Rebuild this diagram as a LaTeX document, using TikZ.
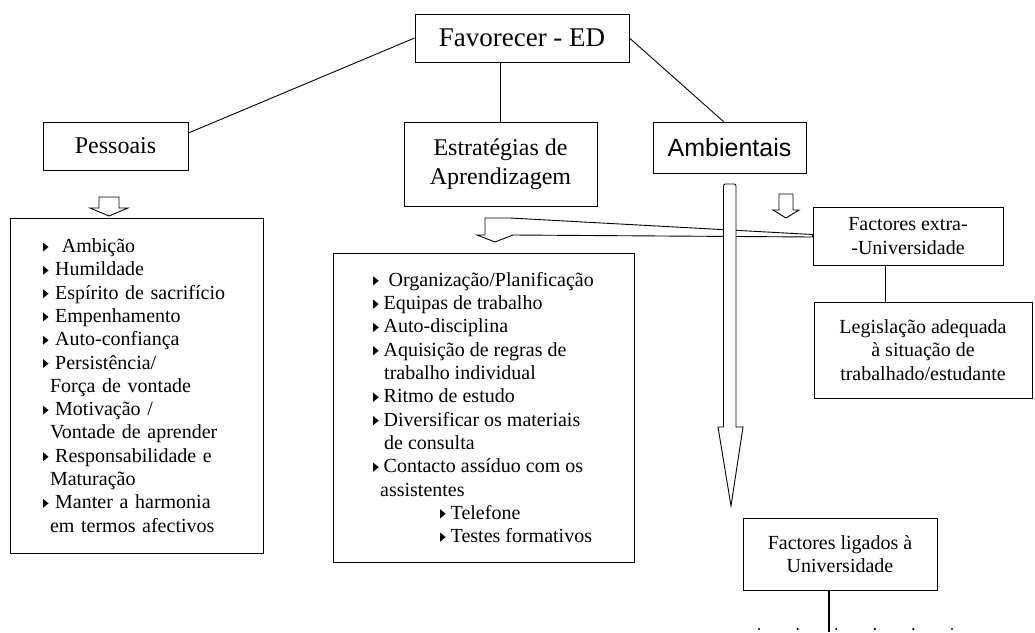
\documentclass[tikz,border=0pt]{standalone}
\usepackage{fontspec}
\setmainfont{Liberation Serif}
\newfontfamily\arialfont{Liberation Sans}
\newcommand{\tri}{\tikz[baseline=0pt, x=1pt, y=1pt]\fill (0,1) -- (0,10) -- (5.5,5.5) -- cycle;}
\tikzset{
  box/.style={draw, line width=0.9pt, inner sep=0pt, align=center},
  listbox/.style={draw, line width=0.9pt, inner ysep=0pt, align=left, font=\fontsize{20}{23.3}\selectfont},
  holarrow/.style={draw, fill=white, line width=0.9pt, line join=miter}
}

\begin{document}
\begin{tikzpicture}[x=1pt,y=-1pt]
    \useasboundingbox (0,0) rectangle (1035,632);

    \node[box, minimum width=214, minimum height=48, font=\fontsize{27}{31}\selectfont] (fav) at (522,38) {Favorecer - ED};
    \node[box, minimum width=145, minimum height=48, font=\fontsize{24}{28}\selectfont] (pess) at (115.5,146) {Pessoais};
    \node[box, minimum width=193, minimum height=84, font=\fontsize{24}{28.5}\selectfont] (estr) at (500.5,164) {Estratégias de\\Aprendizagem};
    \node[box, minimum width=153, minimum height=51, font=\arialfont\fontsize{25}{29}\selectfont] (amb) at (729.5,147.5) {Ambientais};

    \draw[line width=0.9pt] ([yshift=13pt]pess.east) -- (fav.west);
    \draw[line width=0.9pt] (estr.north) -- (estr.north |- fav.south);
    \draw[line width=0.9pt] (fav.east) -- ([xshift=-6pt]amb.north);

    \node[listbox, minimum height=335, text width=187, inner xsep=33] (pesslist) at (136.5,385.5) {%
        \tri\ \ Ambição\\
        \tri\ Humildade\\
        \tri\ Espírito de sacrifício\\
        \tri\ Empenhamento\\
        \tri\ Auto-confiança\\
        \tri\ Persistência/\\
        \hspace*{7pt}Força de vontade\\
        \tri\ Motivação /\\
        \hspace*{7pt}Vontade de aprender\\
        \tri\ Responsabilidade e\\
        \hspace*{7pt}Maturação\\
        \tri\ Manter a harmonia\\
        \hspace*{7pt}em termos afectivos};

    \node[listbox, minimum height=309, minimum width=301, inner xsep=40] (estrlist) at (483.5,407.5) {%
        \tri\ \ Organização/Planificação\\
        \tri\ Equipas de trabalho\\
        \tri\ Auto-disciplina\\
        \tri\ Aquisição de regras de\\
        \hspace*{11pt}trabalho individual\\
        \tri\ Ritmo de estudo\\
        \tri\ Diversificar os materiais\\
        \hspace*{11pt}de consulta\\
        \tri\ Contacto assíduo com os\\
        \hspace*{7pt}assistentes\\
        \hspace*{67pt}\tri\ Telefone\\
        \hspace*{67pt}\tri\ Testes formativos};

    \node[box, minimum width=190, minimum height=58, font=\fontsize{20}{23.3}\selectfont] (fext) at (908,236) {Factores extra-\\-Universidade};
    \node[box, minimum width=218, minimum height=96, font=\fontsize{20}{23.3}\selectfont] (leg) at (923,350) {Legislação adequada\\à situação de\\trabalhado/estudante};
    \node[box, minimum width=194, minimum height=72, font=\fontsize{20}{23.3}\selectfont] (flig) at (840,554) {Factores ligados à\\Universidade};

    \draw[line width=0.9pt] ([xshift=-23pt]fext.south) -- ([xshift=-23pt]fext.south |- leg.north);
    \coordinate (fend) at (829,632);
    \draw[line width=1.2pt] (flig.south -| fend) -- (fend);
    \foreach \dx in {759,797.6,836.2,874.8,913.4,952}
        \fill (\dx,629) circle (1.2);

    % hollow arrows
    \draw[holarrow] (99,197) -- (119,197) -- (119,208) -- (128,208) -- (109,216) -- (90,208) -- (99,208) -- cycle;
    \draw[holarrow] (779,194) -- (793,194) -- (793,210) -- (799,210) -- (786,218) -- (773,210) -- (779,210) -- cycle;
    \draw[holarrow] ([yshift=1.5pt]fext.west) -- (510,218) -- (485,218) -- (485,235) -- (477,235) -- (495,242) -- (513,235) -- ([yshift=-1pt]fext.west) -- cycle;
    \draw[holarrow] (718,427) -- (723.5,427) [rounded corners=2] -- (723.5,184) -- (736,184) [sharp corners] -- (736,427) -- (743,427) -- (731,506) -- cycle;
\end{tikzpicture}
\end{document}
